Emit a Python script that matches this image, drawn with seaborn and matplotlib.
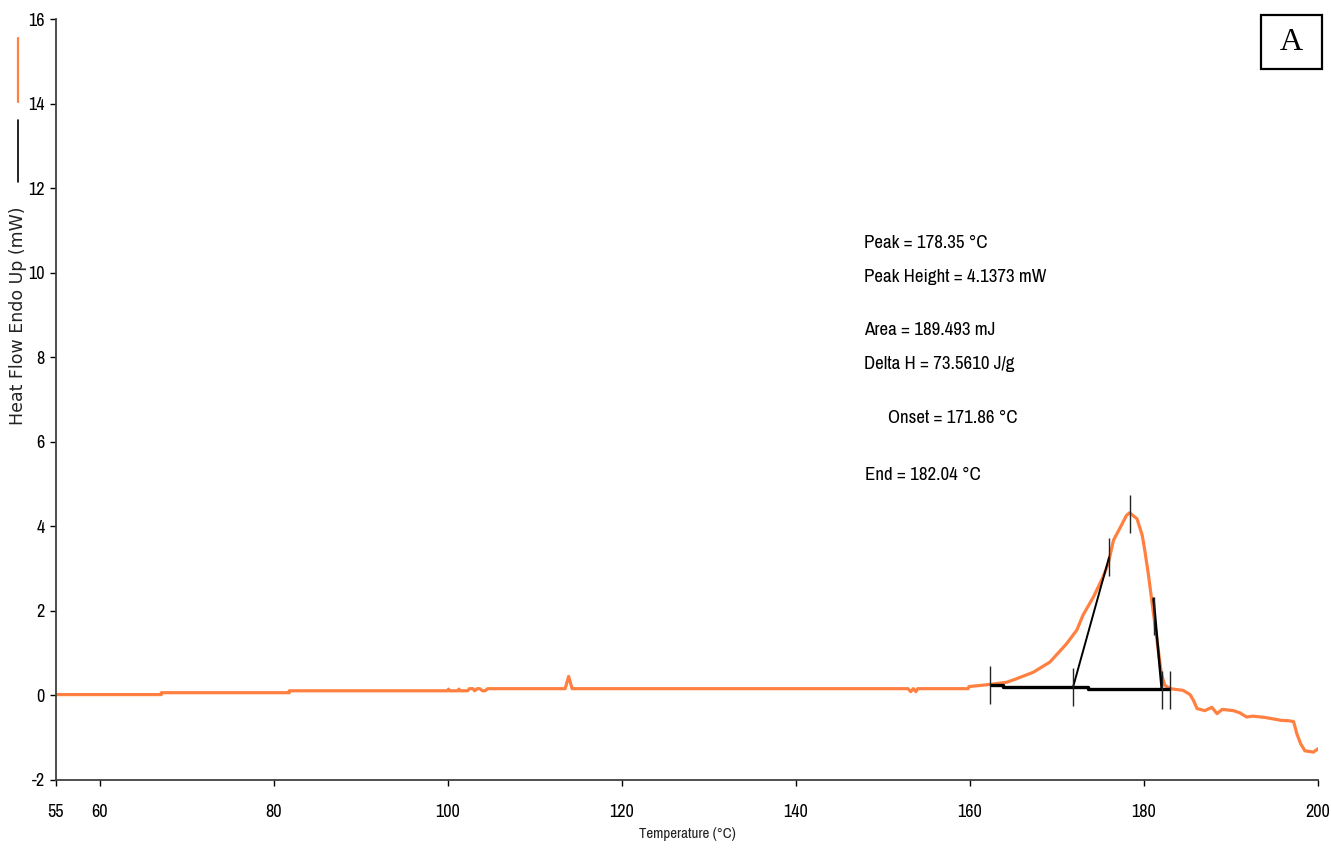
import matplotlib
matplotlib.use("Agg")
import matplotlib.pyplot as plt
from matplotlib import font_manager
from matplotlib.font_manager import FontProperties
from matplotlib.lines import Line2D
from matplotlib.patches import Rectangle
import pandas as pd
import seaborn as sns


def narrow_font_file():
    """Return the path of a regular-weight narrow sans face, if one is installed."""
    entries = font_manager.fontManager.ttflist
    regular = [e for e in entries if e.style == "normal" and e.weight in (400, "normal", "regular")]
    for e in regular:
        if "Narrow" in e.name:
            return e.fname
    for fam in ("Liberation Sans", "Noto Sans", "Open Sans", "Roboto", "DejaVu Sans", "Lato", "Inter"):
        for stretch in ("extra-condensed", "condensed", "semi-condensed"):
            for e in regular:
                if e.name == fam and e.stretch == stretch:
                    return e.fname
    for e in regular:
        if "Condensed" in e.fname and "Bold" not in e.fname and "Oblique" not in e.fname:
            return e.fname
    return font_manager.findfont(FontProperties(family="Liberation Sans"))


# ---- DSC trace: temperature (°C) and heat flow (mW, endo up) ----
temp_c = [55.0, 67.1, 67.1, 81.8, 81.8, 100.0, 100.1, 100.2, 101.2, 101.3, 101.4,
          102.3, 102.5, 102.9, 103.1, 103.4, 103.7, 104.0, 104.3, 104.6, 113.5,
          113.9, 114.3, 152.9, 153.2, 153.5, 153.8, 154.0, 159.8, 159.9, 162.3,
          164.2, 165.3, 167.3, 169.2, 171.1, 172.3, 173.0, 174.2, 175.3, 175.9,
          176.5, 177.3, 178.0, 178.35, 179.2, 179.8, 180.1, 180.5, 180.9, 181.3,
          181.7, 182.0, 182.4, 183.0, 184.5, 185.3, 185.7, 186.1, 187.0, 187.8,
          188.4, 189.0, 190.3, 191.0, 191.8, 192.5, 193.9, 195.8, 196.7, 197.2,
          197.56, 198.0, 198.5, 199.47, 200.0]
heat_flow_mw = [0.02, 0.02, 0.065, 0.065, 0.11, 0.11, 0.15, 0.11, 0.11, 0.15, 0.11,
                0.11, 0.16, 0.16, 0.11, 0.16, 0.16, 0.11, 0.11, 0.16, 0.16,
                0.45, 0.16, 0.16, 0.09, 0.16, 0.09, 0.16, 0.16, 0.21, 0.26,
                0.31, 0.39, 0.55, 0.79, 1.22, 1.55, 1.90, 2.33, 2.80, 3.12,
                3.67, 3.98, 4.26, 4.32, 4.18, 3.79, 3.43, 2.88, 2.25, 1.62,
                0.99, 0.51, 0.24, 0.16, 0.12, 0.02, -0.12, -0.31, -0.36, -0.28,
                -0.43, -0.33, -0.36, -0.41, -0.51, -0.49, -0.52, -0.59, -0.60, -0.62,
                -0.90, -1.14, -1.31, -1.34, -1.26]

# ---- peak analysis construction ----
baseline_t = [162.3, 163.85, 163.85, 173.6, 173.6, 183.0]
baseline_hf = [0.245, 0.245, 0.20, 0.20, 0.16, 0.16]
onset_tangent_t = [171.86, 176.0]
onset_tangent_hf = [0.20, 3.27]
end_tangent_t = [181.1, 182.04]
end_tangent_hf = [2.29, 0.16]
marker_t = [162.3, 171.86, 176.0, 178.35, 181.1, 182.04, 183.0]
marker_hf = [0.25, 0.20, 3.28, 4.28, 1.87, 0.14, 0.14]

# ---- results ----
peak_c = 178.35
peak_height_mw = 4.1373
area_mj = 189.493
delta_h = 73.5610
onset_c = 171.86
end_c = 182.04

x_ticks = [55, 60, 80, 100, 120, 140, 160, 180, 200]
y_ticks = [-2, 0, 2, 4, 6, 8, 10, 12, 14, 16]

ORANGE = "#FF8040"
W, H = 1331, 848

sns.set_theme(style="ticks")
plt.rcParams["font.family"] = ["Liberation Sans", "DejaVu Sans"]
NARROW_FILE = narrow_font_file()


def narrow(size):
    return FontProperties(fname=NARROW_FILE, size=size)


fig = plt.figure(figsize=(W / 100, H / 100), dpi=100)
ax = fig.add_axes([56 / W, 68 / H, 1262 / W, 761 / H])

df = pd.DataFrame({"Temperature": temp_c, "HeatFlow": heat_flow_mw})
sns.lineplot(data=df, x="Temperature", y="HeatFlow", ax=ax, sort=False,
             estimator=None, color=ORANGE, linewidth=2.3)

ax.plot(baseline_t, baseline_hf, color="black", lw=2.4, solid_capstyle="butt")
ax.plot(onset_tangent_t, onset_tangent_hf, color="black", lw=1.4)
ax.plot(end_tangent_t, end_tangent_hf, color="black", lw=1.8)
ax.plot(marker_t, marker_hf, ls="none", marker="|", ms=28, mew=1.0, color="#222222")

ax.set_xlim(55, 200)
ax.set_ylim(-2, 16)
ax.set_xticks(x_ticks)
ax.set_yticks(y_ticks)
ax.set_xticklabels([str(v) for v in x_ticks], fontproperties=narrow(13))
ax.set_yticklabels([str(v) for v in y_ticks], fontproperties=narrow(13))

for side in ("top", "right"):
    ax.spines[side].set_visible(False)
for side in ("left", "bottom"):
    ax.spines[side].set_color("#404040")
    ax.spines[side].set_linewidth(1.3)

ax.tick_params(axis="both", direction="out", length=4, width=1, colors="black",
               labelcolor="black")
ax.tick_params(axis="x", pad=13)
ax.tick_params(axis="y", pad=4)

ax.set_xlabel("Temperature (°C)", fontproperties=narrow(10.8), color="#222222")
ax.xaxis.set_label_coords(0.5, -0.062)
ax.set_ylabel("")

# results block
txt_kw = dict(fontproperties=narrow(13.6), color="black", va="center", ha="left")
ax.text(147.8, 10.70, f"Peak = {peak_c:.2f} °C", **txt_kw)
ax.text(147.8, 9.89, f"Peak Height = {peak_height_mw:.4f} mW", **txt_kw)
ax.text(147.8, 8.64, f"Area = {area_mj:.3f} mJ", **txt_kw)
ax.text(147.8, 7.83, f"Delta H = {delta_h:.4f} J/g", **txt_kw)
ax.text(150.6, 6.56, f"Onset = {onset_c:.2f} °C", **txt_kw)
ax.text(147.95, 5.21, f"End = {end_c:.2f} °C", **txt_kw)

# vertical axis title with its line key
fig.text(18 / W, 1 - 316 / H, "Heat Flow Endo Up (mW)", rotation=90,
         fontsize=12.5, family="DejaVu Sans", color="#222222", ha="center", va="center")
fig.add_artist(Line2D([18 / W, 18 / W], [1 - 38 / H, 1 - 102 / H],
                      color=ORANGE, lw=1.6, transform=fig.transFigure))
fig.add_artist(Line2D([18 / W, 18 / W], [1 - 120 / H, 1 - 182 / H],
                      color="black", lw=1.2, transform=fig.transFigure))

# panel tag
fig.add_artist(Rectangle((1261 / W, 1 - 69 / H), 61 / W, 54 / H, fill=False,
                         edgecolor="black", lw=1.6, transform=fig.transFigure))
fig.text(1291.5 / W, 1 - 43 / H, "A", fontsize=23, family="Liberation Serif",
         ha="center", va="center", color="black")

fig.savefig("out.png", dpi=100)
